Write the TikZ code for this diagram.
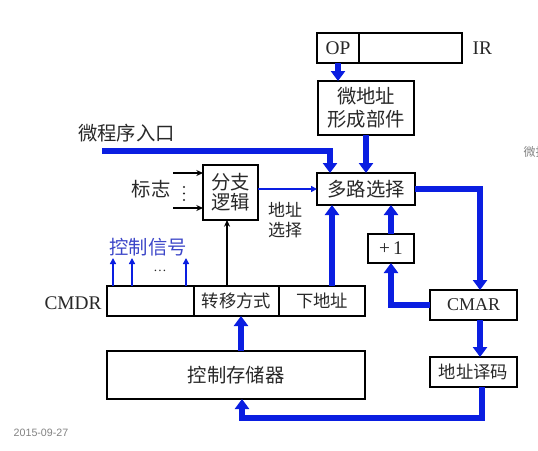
\documentclass[tikz,border=0pt]{standalone}
\usepackage{fontspec}
\setmainfont{Liberation Serif}
\newfontfamily\zhfont{Noto Sans CJK SC}
\newfontfamily\datefont{Liberation Sans}
\usetikzlibrary{arrows.meta, positioning}
\definecolor{busblue}{RGB}{10, 30, 225}
\definecolor{sigblue}{RGB}{60, 70, 200}
\definecolor{textgray}{RGB}{40, 40, 40}
\definecolor{dategray}{RGB}{130, 130, 130}

\begin{document}
\begin{tikzpicture}[
    x=0.75pt, y=-0.75pt,
    box/.style={draw, line width=1.5pt, outer sep=0pt, inner sep=0pt, text=textgray, font=\zhfont\fontsize{14.5}{17}\selectfont, align=center},
    cell/.style={box, minimum height=22.5pt, font=\zhfont\fontsize{13}{15}\selectfont},
    entext/.style={text=textgray, font=\fontsize{14.5}{17}\selectfont},
    zhtext/.style={text=textgray, font=\zhfont\fontsize{14.5}{15}\selectfont, align=center},
    bus/.style={-{Triangle[width=10.5pt, length=7.5pt]}, line width=4.5pt, busblue},
    sig/.style={-{Triangle[width=4.5pt, length=4.5pt]}, line width=1.5pt, busblue},
    ctl/.style={-{Stealth[width=4.5pt, length=5pt]}, line width=1pt, black}
]
    \useasboundingbox (0,0) rectangle (538,450);

    % Nodes - IR
    \node[box, minimum width=31.5pt, minimum height=22.5pt, font=\fontsize{14.5}{17}\selectfont] (op) at (338,48) {OP};
    \node[box, right=0pt of op, minimum width=77.25pt, minimum height=22.5pt] (irrest) {};
    \node[entext, anchor=west] (ir) at (468,48) {IR};

    % Nodes - middle
    \node[box, minimum width=72pt, minimum height=40.5pt] (addrgen) at (366,108) {微地址\\形成部件};
    \node[box, minimum width=73.5pt, minimum height=24pt] (mux) at (366,189) {多路选择};
    \node[box, minimum width=41.25pt, minimum height=41.25pt, font=\zhfont\fontsize{14.5}{15}\selectfont] (branch) at (230.5,192.5) {分支\\逻辑};
    \node[box, minimum width=34.5pt, minimum height=21.75pt, font=\fontsize{14.5}{17}\selectfont] (inc) at (391,248.5) {+\,1};
    \node[box, minimum width=65.25pt, minimum height=22.5pt, font=\fontsize{13.5}{16}\selectfont] (cmar) at (473.5,305) {CMAR};
    \node[cell, minimum width=65.25pt] (decode) at (473.5,372) {地址译码};

    % Nodes - CMDR and control memory
    \node[cell, minimum width=65.25pt] (ctrl) at (150.5,301) {};
    \node[cell, right=0pt of ctrl, minimum width=63.75pt] (jump) {转移方式};
    \node[cell, right=0pt of jump, minimum width=64.5pt] (next) {下地址};
    \node[box, minimum width=193.5pt, minimum height=36pt] (cm) at (236,375) {控制存储器};

    % Labels
    \node[zhtext] (entry) at (126.5,133) {微程序入口};
    \node[zhtext] (flag) at (151,189) {标志};
    \node[zhtext, font=\zhfont\fontsize{12.75}{15}\selectfont] (sel) at (285,220) {地址\\选择};
    \node[zhtext, text=sigblue] (sigs) at (148,247) {控制信号};
    \node[text=textgray] (dots) at (160,271) {\dots};
    \node[entext] (cmdr) at (73,303) {CMDR};
    \node[text=dategray, font=\datefont\fontsize{8}{10}\selectfont] (date) at (41,433) {2015-09-27};
    \node[text=dategray, font=\zhfont\fontsize{9}{10}\selectfont, anchor=west] (cut) at (519,152) {微指};

    % Free ends
    \coordinate (entrystart) at (102,151);
    \coordinate (flagtop) at (173,173);
    \coordinate (flagbot) at (173,208);

    % Vertical dots between the flag inputs
    \foreach \dy in {187,193.5,200}
        \fill[textgray] (184,\dy) circle (0.9pt);

    % Arrows
    \draw[bus] (op.south) -- (op.south |- addrgen.north);
    \draw[bus] (addrgen) -- (mux);
    \draw[bus] (entrystart) -| ([xshift=-27pt]mux.north);
    \draw[sig] (branch.east |- mux.west) -- (mux.west);
    \draw[ctl] (flagtop) -- (flagtop -| branch.west);
    \draw[ctl] (flagbot) -- (flagbot -| branch.west);
    \draw[ctl] ([xshift=-7.1pt]jump.north) -- ([xshift=-7.1pt]jump.north |- branch.south);
    \draw[bus] ([xshift=7.5pt]next.north) -- ([xshift=7.5pt]next.north |- mux.south);
    \draw[bus] (inc.north) -- (inc.north |- mux.south);
    \draw[bus] (cmar.west) -| (inc.south);
    \draw[bus] (mux.east) -| ([xshift=4.9pt]cmar.north);
    \draw[bus] ([xshift=4.9pt]cmar.south) -- ([xshift=4.9pt]decode.north);
    \draw[bus] ([xshift=6.4pt]decode.south) -- ++(0,31) -| ([xshift=4.5pt]cm.south);
    \draw[bus] ([xshift=3.75pt]cm.north) -- ([xshift=3.75pt]cm.north |- jump.south);
    \foreach \dx in {4.5,18.75,59.25}
        \draw[sig] ([xshift=\dx pt]ctrl.north west) -- ++(0,-28);
\end{tikzpicture}
\end{document}
